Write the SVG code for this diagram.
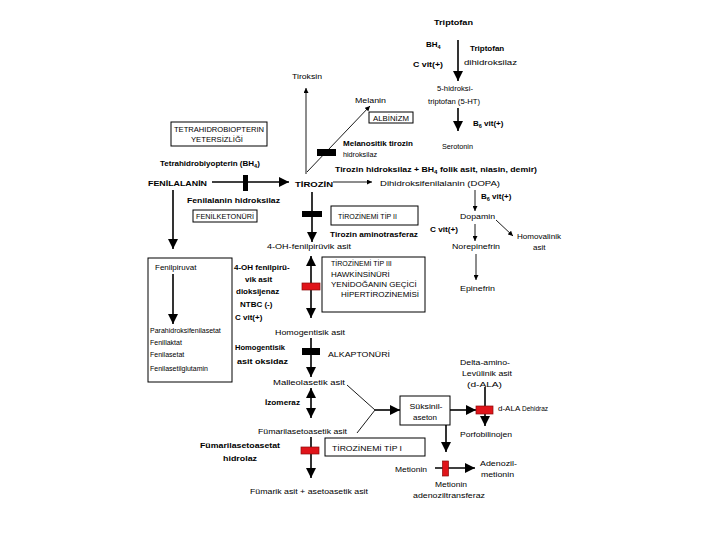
<svg xmlns="http://www.w3.org/2000/svg" width="720" height="540" viewBox="0 0 720 540">
<defs>
<style>
text{font-family:"Liberation Sans",Arial,sans-serif;font-size:8px;fill:#000}
.b{font-weight:bold}
.s{font-size:7px}
.box{fill:#fff;stroke:#000;stroke-width:1}
.ln{stroke:#000;stroke-width:1.6;fill:none}
.th{stroke:#000;stroke-width:0.9;fill:none}
.blk{fill:#000}
.red{fill:#e0141a;stroke:#8a0a0a;stroke-width:0.7}
</style>
<marker id="big" viewBox="0 0 10 10" refX="10" refY="5" markerWidth="10" markerHeight="11" markerUnits="userSpaceOnUse" orient="auto-start-reverse"><path d="M0,0L10,5L0,10z"/></marker>
<marker id="sm" viewBox="0 0 10 10" refX="10" refY="5" markerWidth="6" markerHeight="5" markerUnits="userSpaceOnUse" orient="auto"><path d="M0,0L10,5L0,10z"/></marker>
</defs>
<rect width="720" height="540" fill="#fff"/>

<g id="connectors">
<line class="ln" x1="458" y1="40" x2="458" y2="81" marker-end="url(#big)" stroke-width="2"/>
<line class="ln" x1="458" y1="108" x2="458" y2="131" marker-end="url(#big)" stroke-width="2"/>
<line class="th" x1="306" y1="174" x2="306" y2="88" marker-end="url(#sm)"/>
<line class="th" x1="307" y1="172" x2="370" y2="106" marker-end="url(#sm)"/>
<line class="ln" x1="212" y1="182" x2="289" y2="182" marker-end="url(#big)"/>
<line class="th" x1="333" y1="182" x2="372" y2="182" marker-end="url(#sm)"/>
<line class="ln" x1="173" y1="190" x2="173" y2="249" marker-end="url(#big)"/>
<line class="ln" x1="312" y1="192" x2="312" y2="242" marker-end="url(#big)"/>
<line class="th" x1="475" y1="190" x2="475" y2="211" marker-end="url(#sm)"/>
<line class="th" x1="475" y1="224" x2="475" y2="241" marker-end="url(#sm)"/>
<line class="th" x1="476" y1="254" x2="476" y2="280" marker-end="url(#sm)"/>
<line class="th" x1="496" y1="220" x2="513" y2="236" marker-end="url(#sm)"/>
<line class="ln" x1="173" y1="274" x2="173" y2="324" marker-end="url(#big)"/>
<line class="ln" x1="311" y1="256" x2="311" y2="318" marker-start="url(#big)" marker-end="url(#big)"/>
<line class="ln" x1="311" y1="338" x2="311" y2="377" marker-end="url(#big)"/>
<line class="ln" x1="311" y1="388" x2="311" y2="418" marker-start="url(#big)" marker-end="url(#big)"/>
<line class="th" x1="347" y1="385" x2="375" y2="410"/>
<line class="th" x1="357" y1="433" x2="375" y2="410"/>
<line class="ln" x1="375" y1="410" x2="400" y2="410" marker-end="url(#big)"/>
<line class="ln" x1="450" y1="410" x2="476" y2="410" marker-end="url(#big)"/>
<line class="ln" x1="485" y1="387" x2="485" y2="426" marker-end="url(#big)"/>
<line class="ln" x1="446" y1="425" x2="446" y2="452" marker-end="url(#big)"/>
<line class="ln" x1="435" y1="468" x2="475" y2="468" marker-end="url(#big)"/>
<line class="ln" x1="311" y1="437" x2="311" y2="478" marker-end="url(#big)"/>
</g>

<g id="blocks">
<rect class="blk" x="317" y="149" width="19" height="7"/>
<rect class="blk" x="243" y="175" width="5" height="16"/>
<rect class="blk" x="302" y="211" width="20" height="6"/>
<rect class="red" x="302" y="283" width="18" height="7"/>
<rect class="blk" x="302" y="348" width="18" height="7"/>
<rect class="red" x="476" y="406" width="17" height="8"/>
<rect class="red" x="442.5" y="461" width="6" height="15"/>
<rect class="red" x="301" y="447" width="18" height="7"/>
</g>

<g id="n-triptofan"><text class="b" x="434" y="25" font-size="9" textLength="39" lengthAdjust="spacingAndGlyphs">Triptofan</text></g>
<g id="n-bh4-top"><text class="b" x="426" y="47">BH<tspan font-size="5.5" dy="1.5">4</tspan></text></g>
<g id="n-trip-enz"><text class="b" x="470" y="51" font-size="9">Triptofan</text><text x="464" y="65" textLength="53" lengthAdjust="spacingAndGlyphs">dihidroksilaz</text></g>
<g id="n-cvit1"><text class="b" x="413" y="67" textLength="30" lengthAdjust="spacingAndGlyphs">C vit(+)</text></g>
<g id="n-5ht"><text x="437" y="91" textLength="36" lengthAdjust="spacingAndGlyphs">5-hidroksi-</text><text x="428" y="104" textLength="52" lengthAdjust="spacingAndGlyphs">triptofan (5-HT)</text></g>
<g id="n-b6a"><text class="b" x="473" y="126">B<tspan font-size="5.5" dy="1.5">6</tspan><tspan dy="-1.5"> vit(+)</tspan></text></g>
<g id="n-serotonin"><text x="442" y="149" textLength="31" lengthAdjust="spacingAndGlyphs">Serotonin</text></g>
<g id="n-tiroksin"><text x="292" y="79" textLength="30" lengthAdjust="spacingAndGlyphs">Tiroksin</text></g>
<g id="n-melanin"><text x="355" y="103" textLength="31" lengthAdjust="spacingAndGlyphs">Melanin</text></g>
<g id="n-albinizm"><rect class="box" x="369" y="112" width="44" height="11"/><text class="s" x="391" y="120.5" text-anchor="middle" textLength="36" lengthAdjust="spacingAndGlyphs">ALBİNİZM</text></g>
<g id="n-melano-enz"><text class="b s" x="343" y="146" textLength="70" lengthAdjust="spacingAndGlyphs">Melanositik tirozin</text><text class="s" x="343" y="157" textLength="34" lengthAdjust="spacingAndGlyphs">hidroksilaz</text></g>
<g id="n-tetra-box"><rect class="box" x="171" y="122" width="96" height="24"/><text class="s" x="219" y="131.5" text-anchor="middle" textLength="90" lengthAdjust="spacingAndGlyphs">TETRAHIDROBIOPTERIN</text><text class="s" x="217" y="141.5" text-anchor="middle" textLength="52" lengthAdjust="spacingAndGlyphs">YETERSİZLİĞİ</text></g>
<g id="n-bh4"><text class="b" x="160" y="166">Tetrahidrobiyopterin (BH<tspan font-size="5.5" dy="1.5">4</tspan><tspan dy="-1.5">)</tspan></text></g>
<g id="n-fenilalanin"><text class="b" x="148" y="186" font-size="9" textLength="59" lengthAdjust="spacingAndGlyphs">FENİLALANİN</text></g>
<g id="n-tirozin"><text class="b" x="295" y="187" font-size="10" textLength="38" lengthAdjust="spacingAndGlyphs">TİROZİN</text></g>
<g id="n-dopa"><text x="380" y="186" textLength="120" lengthAdjust="spacingAndGlyphs">Dihidroksifenilalanin (DOPA)</text></g>
<g id="n-tir-hid"><text class="b" x="335" y="172" font-size="8.6" textLength="202" lengthAdjust="spacingAndGlyphs">Tirozin hidroksilaz + BH<tspan font-size="5.5" dy="1.5">4</tspan><tspan dy="-1.5"> folik asit, niasin, demir)</tspan></text></g>
<g id="n-fen-hid"><text class="b" x="187" y="203" textLength="93" lengthAdjust="spacingAndGlyphs">Fenilalanin hidroksilaz</text></g>
<g id="n-pku"><rect class="box" x="193" y="210" width="64" height="12"/><text class="s" x="225" y="219" text-anchor="middle" textLength="58" lengthAdjust="spacingAndGlyphs">FENİLKETONÜRİ</text></g>
<g id="n-tir2"><rect class="box" x="331" y="206" width="87" height="19"/><text x="338" y="219" textLength="59" lengthAdjust="spacingAndGlyphs">TİROZİNEMİ TİP II</text></g>
<g id="n-tir-amino"><text class="b" x="330" y="237" textLength="88" lengthAdjust="spacingAndGlyphs">Tirozin aminotrasferaz</text></g>
<g id="n-cvit2"><text class="b" x="430" y="232" textLength="28" lengthAdjust="spacingAndGlyphs">C vit(+)</text></g>
<g id="n-4oh"><text x="267" y="249" textLength="84" lengthAdjust="spacingAndGlyphs">4-OH-fenilpirüvik asit</text></g>
<g id="n-b6b"><text class="b" x="481" y="199">B<tspan font-size="5.5" dy="1.5">6</tspan><tspan dy="-1.5"> vit(+)</tspan></text></g>
<g id="n-dopamin"><text x="460" y="219" textLength="35" lengthAdjust="spacingAndGlyphs">Dopamin</text></g>
<g id="n-norepi"><text x="452" y="249" textLength="48" lengthAdjust="spacingAndGlyphs">Norepinefrin</text></g>
<g id="n-epi"><text x="460" y="291" textLength="35" lengthAdjust="spacingAndGlyphs">Epinefrin</text></g>
<g id="n-homoval"><text x="517" y="239" textLength="44" lengthAdjust="spacingAndGlyphs">Homovalinik</text><text x="533" y="250">asit</text></g>
<g id="n-fenilpiruvat"><rect class="box" x="148" y="258" width="84" height="124" fill="none" style="fill:none"/><text x="155" y="270">Fenilpiruvat</text><text class="s" x="150" y="333">Parahidroksifenilasetat</text><text class="s" x="150" y="345">Fenillaktat</text><text class="s" x="150" y="357">Fenilasetat</text><text class="s" x="150" y="371">Fenilasetilglutamin</text></g>
<g id="n-4oh-enz"><text class="b" x="234" y="270">4-OH fenilpirü-</text><text class="b" x="245" y="282">vik asit</text><text class="b" x="236" y="294">dioksijenaz</text><text class="b" x="240" y="307">NTBC (-)</text><text class="b" x="235" y="320">C vit(+)</text></g>
<g id="n-tir3"><rect class="box" x="322" y="257" width="103" height="55"/><text class="s" x="331" y="266">TİROZİNEMİ TİP III</text><text x="331" y="277">HAWKİNSİNÜRİ</text><text x="331" y="287">YENİDOĞANIN GEÇİCİ</text><text x="341" y="297">HİPERTİROZİNEMİSİ</text></g>
<g id="n-homogent"><text x="275" y="335" textLength="70" lengthAdjust="spacingAndGlyphs">Homogentisik asit</text></g>
<g id="n-hga-enz"><text class="b s" x="235" y="350" textLength="50" lengthAdjust="spacingAndGlyphs">Homogentisik</text><text class="b" x="237" y="364" textLength="51" lengthAdjust="spacingAndGlyphs">asit oksidaz</text></g>
<g id="n-alkap"><text x="328" y="357" textLength="62" lengthAdjust="spacingAndGlyphs">ALKAPTONÜRİ</text></g>
<g id="n-malleol"><text x="273" y="385" textLength="72" lengthAdjust="spacingAndGlyphs">Malleolasetik asit</text></g>
<g id="n-izomeraz"><text class="b" x="265" y="405" textLength="35" lengthAdjust="spacingAndGlyphs">İzomeraz</text></g>
<g id="n-fumarilas"><text x="258" y="434" textLength="89" lengthAdjust="spacingAndGlyphs">Fümarilasetoasetik asit</text></g>
<g id="n-fah"><text class="b" x="200" y="448" textLength="80" lengthAdjust="spacingAndGlyphs">Fümarilasetoasetat</text><text class="b" x="223" y="461" textLength="34" lengthAdjust="spacingAndGlyphs">hidrolaz</text></g>
<g id="n-tir1"><rect class="box" x="325" y="438" width="100" height="18"/><text x="332" y="450.5" textLength="70" lengthAdjust="spacingAndGlyphs">TİROZİNEMİ TİP I</text></g>
<g id="n-fumarik"><text x="250" y="494" textLength="118" lengthAdjust="spacingAndGlyphs">Fümarik asit + asetoasetik asit</text></g>
<g id="n-suksinil"><rect class="box" x="400" y="396" width="50" height="29"/><text x="426" y="409" text-anchor="middle" textLength="33" lengthAdjust="spacingAndGlyphs">Süksinil-</text><text x="425" y="420" text-anchor="middle" textLength="24" lengthAdjust="spacingAndGlyphs">aseton</text></g>
<g id="n-dala"><text x="460" y="365" textLength="50" lengthAdjust="spacingAndGlyphs">Delta-amino-</text><text x="462" y="376" textLength="50" lengthAdjust="spacingAndGlyphs">Levülinik asit</text><text x="467" y="387" textLength="35" lengthAdjust="spacingAndGlyphs">(d-ALA)</text></g>
<g id="n-dala-enz"><text x="498" y="411">d-ALA <tspan font-size="6.5">Dehidraz</tspan></text></g>
<g id="n-porfo"><text x="460" y="437" textLength="52" lengthAdjust="spacingAndGlyphs">Porfobilinojen</text></g>
<g id="n-metionin"><text x="395" y="472" textLength="32" lengthAdjust="spacingAndGlyphs">Metionin</text></g>
<g id="n-adenozil"><text x="480" y="466" textLength="37" lengthAdjust="spacingAndGlyphs">Adenozil-</text><text x="481" y="477" textLength="33" lengthAdjust="spacingAndGlyphs">metionin</text></g>
<g id="n-mat"><text x="435" y="487" textLength="32" lengthAdjust="spacingAndGlyphs">Metionin</text><text x="413" y="498" textLength="72" lengthAdjust="spacingAndGlyphs">adenoziltransferaz</text></g>
</svg>
